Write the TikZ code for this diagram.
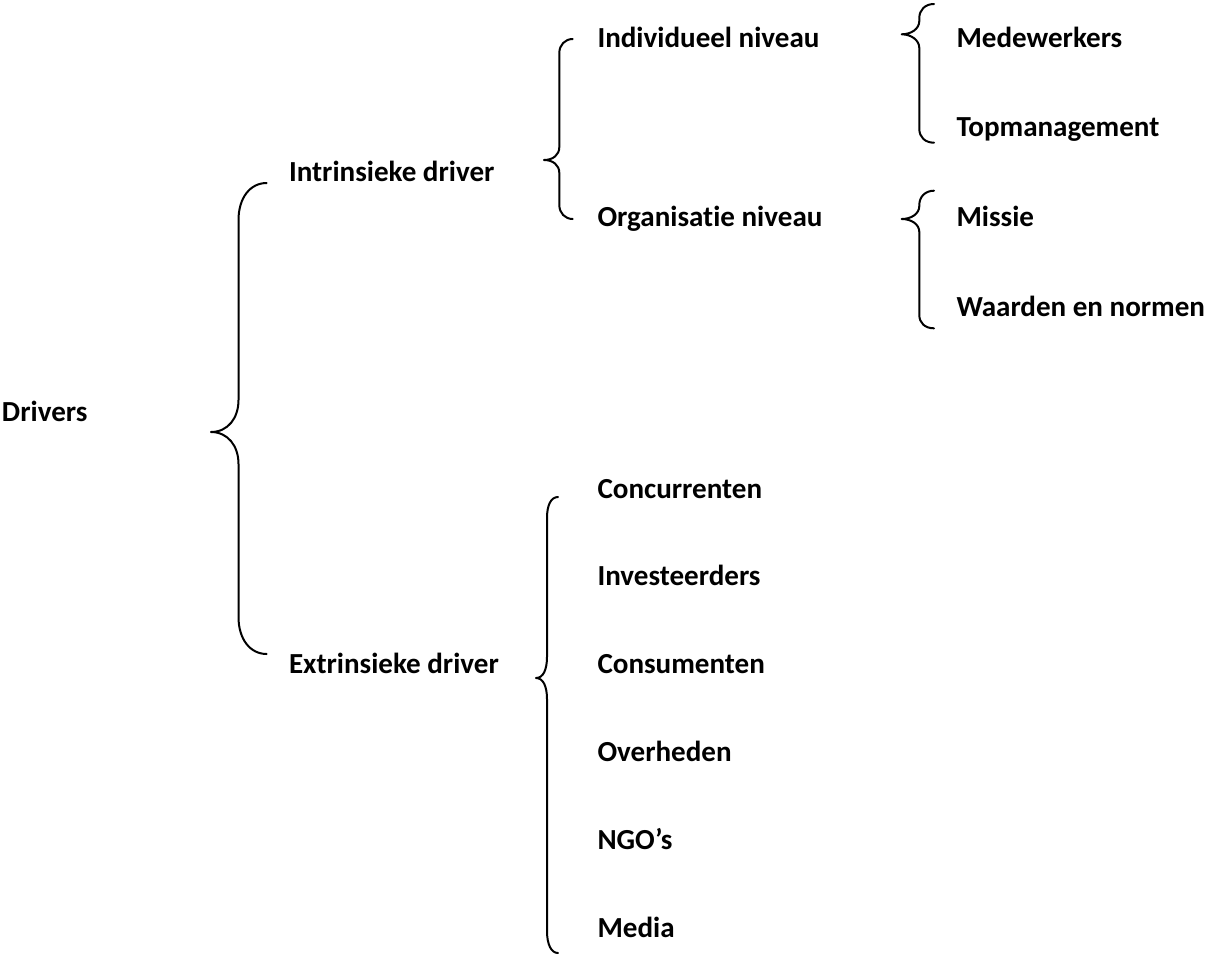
\documentclass[tikz,border=0pt]{standalone}
\usepackage{fontspec}
\setmainfont{Carlito}[Ligatures={NoCommon}]

\tikzset{every picture/.style={line width=0.75pt}}
\tikzset{
  brace line/.style={line width=1.5pt, line cap=round, line join=round},
  item text/.style={anchor=base west, inner sep=0pt, font=\fontsize{21.8}{26}\selectfont\bfseries}
}

\begin{document}
\begin{tikzpicture}[x=0.75pt,y=0.75pt,yscale=-1,xscale=1]
\useasboundingbox (0,0) rectangle (1210,954);

%Shape: Left Brace (Drivers)
\draw [brace line]  (266.7,183) .. controls (250,183) and (238.5,198) .. (238.5,220) -- (238.5,400) .. controls (238.5,418) and (228,432) .. (211,432) .. controls (228,432) and (238.5,446) .. (238.5,464) -- (238.5,617) .. controls (238.5,639) and (250,654) .. (266.7,654) ;
%Shape: Left Brace (Intrinsieke driver)
\draw [brace line]  (572.7,39) .. controls (565,39) and (559.3,45) .. (559.3,53) -- (559.3,147) .. controls (559.3,155) and (553,160) .. (544,160) .. controls (553,160) and (559.3,165) .. (559.3,173) -- (559.3,205) .. controls (559.3,213) and (565,219) .. (572.7,219) ;
%Shape: Left Brace (Individueel niveau)
\draw [brace line]  (934,4) .. controls (925,4) and (919.3,10) .. (919.3,18) -- (919.3,21) .. controls (919.3,29) and (911,34.3) .. (901.7,34.3) .. controls (911,34.3) and (919.3,40) .. (919.3,48) -- (919.3,129) .. controls (919.3,137) and (925,142.7) .. (934,142.7) ;
%Shape: Left Brace (Organisatie niveau)
\draw [brace line]  (934,190.7) .. controls (925,190.7) and (919.3,197) .. (919.3,205) -- (919.3,206) .. controls (919.3,214) and (911,219) .. (901.7,219) .. controls (911,219) and (919.3,224) .. (919.3,232) -- (919.3,315) .. controls (919.3,323) and (925,328.3) .. (934,328.3) ;
%Shape: Left Brace (Extrinsieke driver)
\draw [brace line]  (558,497) .. controls (551,497) and (547,505) .. (547,518) -- (547,657) .. controls (547,670) and (543,678) .. (536,678) .. controls (543,678) and (547,686) .. (547,699) -- (547,931) .. controls (547,944) and (551,953) .. (558,953) ;

% Text Node
\node [item text] (drivers) at (1.5,421) {Drivers};
% Text Node
\node [item text] (intrinsiek) at (288.5,181.7) {Intrinsieke driver};
% Text Node
\node [item text] (extrinsiek) at (288.5,673) {Extrinsieke driver};
% Text Node
\node [item text] (individueel) at (597,47) {Individueel niveau};
% Text Node
\node [item text] (organisatie) at (597,226.5) {Organisatie niveau};
% Text Node
\node [item text] (medewerkers) at (956,47) {Medewerkers};
% Text Node
\node [item text] (topman) at (956,136.7) {Topmanagement};
% Text Node
\node [item text] (missie) at (956,226.5) {Missie};
% Text Node
\node [item text] (waarden) at (956,316.5) {Waarden en normen};
% Text Node
\node [item text] (concurrenten) at (597,498) {Concurrenten};
% Text Node
\node [item text] (investeerders) at (597,585.8) {Investeerders};
% Text Node
\node [item text] (consumenten) at (597,673) {Consumenten};
% Text Node
\node [item text] (overheden) at (597,761.4) {Overheden};
% Text Node
\node [item text] (ngos) at (597,849.2) {NGO’s};
% Text Node
\node [item text] (media) at (597,937) {Media};

\end{tikzpicture}
\end{document}
